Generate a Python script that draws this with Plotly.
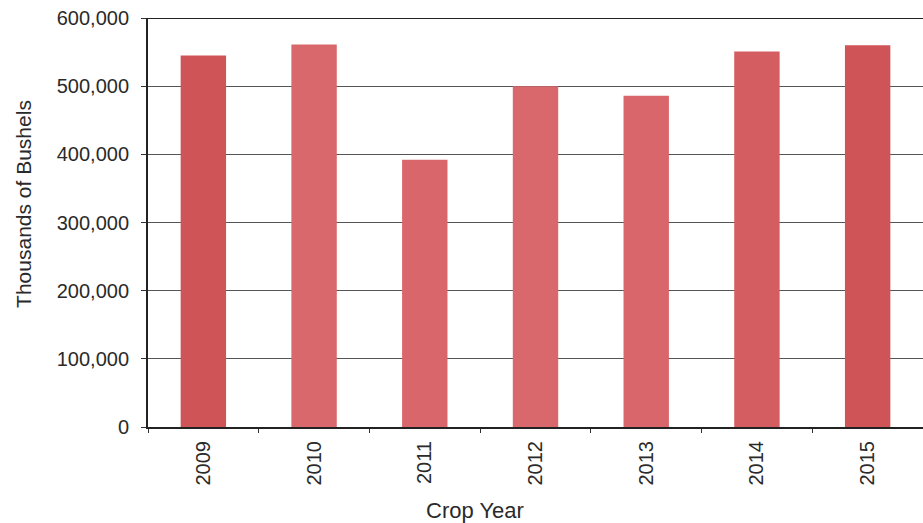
import plotly.graph_objects as go

years = ["2009", "2010", "2011", "2012", "2013", "2014", "2015"]
bushels = [545000, 561000, 392000, 500000, 486000, 551000, 560000]
ytick_vals = [0, 100000, 200000, 300000, 400000, 500000, 600000]
ytick_text = ["0", "100,000", "200,000", "300,000", "400,000", "500,000", "600,000"]

bar_colors = ["#cf5457", "#d8686b", "#d8666a", "#d8686b", "#d8666a", "#d35d60", "#cf5457"]

fig = go.Figure(go.Bar(x=years, y=bushels, marker=dict(color=bar_colors, line=dict(width=0)), width=0.41))

font = "Liberation Sans, Arial, sans-serif"
fig.update_layout(
    width=923, height=523,
    margin=dict(l=148, r=0, t=18, b=96),
    plot_bgcolor="white", paper_bgcolor="white",
    font=dict(family=font, size=20, color="#2a2a2a"),
    showlegend=False,
)
fig.update_xaxes(
    range=[-0.5, 6.5], tickangle=-90, tickson="boundaries",
    ticks="outside", ticklen=4, tickcolor="#333",
    showline=True, linecolor="#222", linewidth=2, mirror=False,
    showgrid=False,
    tickfont=dict(size=20),
    ticklabelstandoff=4,
)
fig.update_yaxes(
    range=[0, 600000], tickvals=ytick_vals, ticktext=ytick_text,
    ticks="outside", ticklen=5, tickcolor="#333",
    showline=True, linecolor="#222", linewidth=2,
    showgrid=True, gridcolor="#555", gridwidth=1,
    tickfont=dict(size=20),
    ticklabelstandoff=8,
    zeroline=False,
)
fig.add_shape(type="line", xref="paper", yref="y", x0=0, x1=1, y0=600000, y1=600000,
              line=dict(color="#222", width=2))
fig.add_annotation(text="Thousands of Bushels", xref="paper", yref="paper",
                   x=-0.161, y=0.546, textangle=-90, showarrow=False,
                   xanchor="center", yanchor="middle", font=dict(size=21))
fig.add_annotation(text="Crop Year", xref="paper", yref="paper",
                   x=0.422, y=-0.203, showarrow=False,
                   xanchor="center", yanchor="middle", font=dict(size=22))
fig.write_html("out.html")
